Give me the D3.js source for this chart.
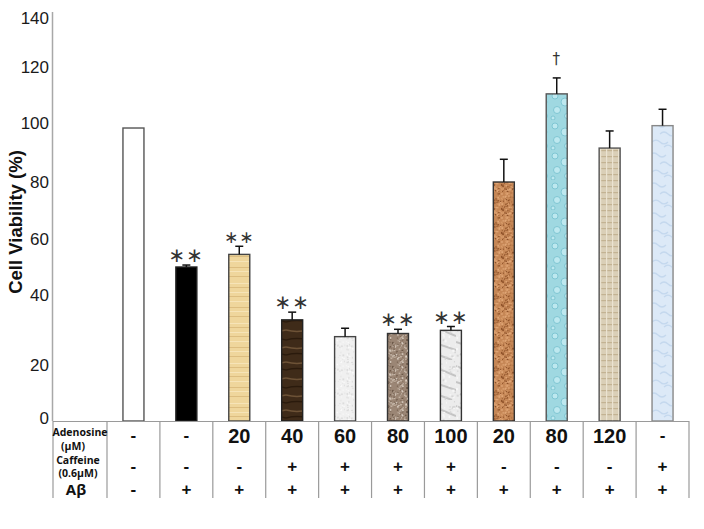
<!DOCTYPE html>
<html>
<head>
<meta charset="utf-8">
<script src="https://cdn.jsdelivr.net/npm/d3@7/dist/d3.min.js"></script>
<style>
  html, body { margin: 0; padding: 0; background: #fff; }
  svg { display: block; }
</style>
</head>
<body>
<script>
// ---- data ----
const adenosine = ["-", "-", "20", "40", "60", "80", "100", "20", "80", "120", "-"];
const caffeine  = ["-", "-", "-", "+", "+", "+", "+", "-", "-", "-", "+"];
const abeta     = ["-", "+", "+", "+", "+", "+", "+", "+", "+", "+", "+"];
const viability = [98.3, 50, 54.5, 32.9, 28.1, 29.0, 29.9, 80, 110.4, 91.5, 99.1];
const errors    = [0, 0.7, 2.9, 2.2, 2.4, 1.2, 1.1, 7.7, 5.7, 5.8, 5.8];
const marks     = ["", "**", "**", "**", "", "**", "**", "", "\u2020", "", ""];
const yTicks    = [0, 20, 40, 60, 80, 100, 120, 140];
const rowLabels = [["Adenosine", "(\u00B5M)"], ["Caffeine", "(0.6\u00B5M)"], ["A\u03B2"]];

const W = 704, H = 529;
const svg = d3.select("body").append("svg").attr("width", W).attr("height", H);

// scales (tick labels in the source are unevenly spaced, so the scale follows them)
const y = d3.scaleLinear().domain(yTicks).range([421, 365, 295, 239, 182, 123, 67, 18]);
const x = d3.scaleBand().domain(d3.range(viability.length)).range([107, 689]);
const barW = 21;

// ---- patterns ----
const defs = svg.append("defs");
function pat(id, w, h, base, draw) {
  const p = defs.append("pattern").attr("id", id).attr("patternUnits", "userSpaceOnUse")
    .attr("width", w).attr("height", h);
  p.append("rect").attr("width", w).attr("height", h).attr("fill", base);
  draw(p);
}
// deterministic speckle helper (texture only)
function speckle(p, w, h, n, colors, r, seed) {
  let s = seed;
  const rnd = () => { s = (s * 9301 + 49297) % 233280; return s / 233280; };
  for (let i = 0; i < n; i++) {
    p.append("rect").attr("x", rnd() * w).attr("y", rnd() * h)
      .attr("width", r * (0.6 + rnd())).attr("height", r * (0.6 + rnd()))
      .attr("fill", colors[i % colors.length]);
  }
}
const fills = ["#ffffff", "#000000"];
pat("p2", 22, 40, "#efd69c", p => {
  [3, 7, 12, 16, 21, 27, 31, 36].forEach((yy, i) =>
    p.append("rect").attr("x", 0).attr("y", yy).attr("width", 22).attr("height", 1)
      .attr("fill", i % 2 ? "#dcbd80" : "#f6e4b8"));
});
fills.push("url(#p2)");
pat("p3", 22, 48, "#3f2b19", p => {
  [4, 11, 19, 26, 34, 42].forEach((yy, i) =>
    p.append("path").attr("d", `M0,${yy} Q11,${yy + (i % 2 ? 3 : -3)} 22,${yy}`)
      .attr("stroke", i % 2 ? "#6d5236" : "#2a1a0c").attr("stroke-width", 1.5).attr("fill", "none"));
});
fills.push("url(#p3)");
pat("p4", 24, 24, "#f0f0f0", p => speckle(p, 24, 24, 60, ["#dcdcdc", "#e4e4e4", "#fafafa"], 1.2, 7));
fills.push("url(#p4)");
pat("p5", 24, 24, "#9b8675", p => speckle(p, 24, 24, 140, ["#6a5646", "#c2b1a1", "#85705f", "#d8ccc0"], 1.2, 13));
fills.push("url(#p5)");
pat("p6", 24, 40, "#ececec", p => {
  [[0, 6, 24, 16], [0, 22, 24, 30], [4, 34, 20, 40]].forEach(d =>
    p.append("line").attr("x1", d[0]).attr("y1", d[1]).attr("x2", d[2]).attr("y2", d[3])
      .attr("stroke", "#c4c4c4").attr("stroke-width", 2));
  speckle(p, 24, 40, 40, ["#d6d6d6", "#f7f7f7"], 1.5, 21);
});
fills.push("url(#p6)");
pat("p7", 24, 24, "#c68756", p => speckle(p, 24, 24, 150, ["#8e5128", "#e0a676", "#a86a3c", "#d79a68"], 1.3, 33));
fills.push("url(#p7)");
pat("p8", 22, 30, "#9fd8e1", p => {
  [[5, 6, 3], [15, 12, 4], [7, 20, 3.5], [17, 26, 2.5], [3, 28, 2]].forEach(c =>
    p.append("circle").attr("cx", c[0]).attr("cy", c[1]).attr("r", c[2])
      .attr("fill", "#bde8ef").attr("stroke", "#72bfcd").attr("stroke-width", 0.8));
});
fills.push("url(#p8)");
pat("p9", 6, 6, "#dacfb7", p => {
  p.append("rect").attr("x", 0).attr("y", 0).attr("width", 6).attr("height", 1.2).attr("fill", "#c3b393");
  p.append("rect").attr("x", 0).attr("y", 0).attr("width", 1.2).attr("height", 6).attr("fill", "#ebe3d1");
});
fills.push("url(#p9)");
pat("p10", 24, 30, "#dce9f7", p => {
  [[2, 5], [12, 14], [4, 22], [16, 27]].forEach(c =>
    p.append("path").attr("d", `M${c[0]},${c[1]} q4,-4 8,0 t8,0`)
      .attr("stroke", "#c4d8ee").attr("stroke-width", 1.2).attr("fill", "none"));
});
fills.push("url(#p10)");
const strokes = ["#555", "#222", "#444", "#222", "#444", "#333", "#333", "#333", "#555", "#555", "#888"];

// ---- y axis ----
svg.append("line").attr("x1", 52.5).attr("x2", 52.5).attr("y1", 12).attr("y2", 421)
  .attr("stroke", "#a8a8a8").attr("stroke-width", 1.5);
const yAxis = d3.axisLeft(y).tickValues(yTicks).tickSize(0).tickPadding(1);
const yg = svg.append("g").attr("transform", "translate(50,0)").call(yAxis);
yg.select(".domain").remove();
yg.selectAll("text").attr("font-family", "Liberation Sans, Arial, sans-serif")
  .attr("font-size", 17).attr("fill", "#1a1a1a").attr("dy", "0.32em");
yg.selectAll(".tick").filter(d => d === 0).select("text").attr("dy", "0.15em");

svg.append("text").attr("transform", "translate(22,222) rotate(-90)")
  .attr("text-anchor", "middle").attr("font-family", "Liberation Sans, Arial, sans-serif")
  .attr("font-weight", "bold").attr("font-size", 18.5).attr("fill", "#111")
  .text("Cell Viability (%)");

// ---- bars ----
const cx = i => x(i) + x.bandwidth() / 2;
svg.append("g").selectAll("rect").data(viability).join("rect")
  .attr("x", (d, i) => cx(i) - barW / 2).attr("y", d => y(d))
  .attr("width", barW).attr("height", d => y(0) - y(d))
  .attr("fill", (d, i) => fills[i]).attr("stroke", (d, i) => strokes[i]).attr("stroke-width", 1.4);

// error bars (upper only)
const eg = svg.append("g").attr("stroke", "#111").attr("stroke-width", 1.5);
viability.forEach((v, i) => {
  if (!errors[i]) return;
  eg.append("line").attr("x1", cx(i)).attr("x2", cx(i)).attr("y1", y(v)).attr("y2", y(v + errors[i]));
  eg.append("line").attr("x1", cx(i) - 4).attr("x2", cx(i) + 4)
    .attr("y1", y(v + errors[i])).attr("y2", y(v + errors[i]));
});

// significance marks
marks.forEach((m, i) => {
  if (!m) return;
  const top = y(viability[i] + errors[i]);
  const isDagger = m === "\u2020";
  svg.append("text").attr("x", cx(i)).attr("y", top - (isDagger ? 14 : 3))
    .attr("text-anchor", "middle").attr("font-family", "DejaVu Sans, sans-serif")
    .attr("font-size", isDagger ? 15 : (i === 2 ? 17 : 20)).attr("fill", "#333")
    .attr("letter-spacing", 1)
    .text(isDagger ? m : "\u2217\u2217");
});

// ---- table ----
const tg = svg.append("g").attr("stroke", "#9a9a9a").attr("stroke-width", 1.2);
tg.append("line").attr("x1", 53).attr("x2", 689).attr("y1", 421.5).attr("y2", 421.5);
tg.append("line").attr("x1", 53).attr("x2", 53).attr("y1", 421).attr("y2", 498);
d3.range(viability.length).forEach(i => {
  tg.append("line").attr("x1", x(i)).attr("x2", x(i)).attr("y1", 421).attr("y2", 498);
});
tg.append("line").attr("x1", 689).attr("x2", 689).attr("y1", 421).attr("y2", 498);

const hdr = svg.append("g").attr("font-family", "Open Sans, Liberation Sans, sans-serif")
  .attr("font-weight", "bold").attr("fill", "#111").attr("text-anchor", "middle");
hdr.append("text").attr("x", 80).attr("y", 436).attr("font-size", 10.5).text(rowLabels[0][0]);
hdr.append("text").attr("x", 73).attr("y", 450).attr("font-size", 10.5).text(rowLabels[0][1]);
hdr.append("text").attr("x", 78).attr("y", 464).attr("font-size", 10.5).text(rowLabels[1][0]);
hdr.append("text").attr("x", 78).attr("y", 477).attr("font-size", 10.5).text(rowLabels[1][1]);
hdr.append("text").attr("x", 76).attr("y", 495).attr("font-size", 15).text(rowLabels[2][0]);

const cell = svg.append("g").attr("font-family", "Liberation Sans, Arial, sans-serif")
  .attr("font-weight", "bold").attr("fill", "#111").attr("text-anchor", "middle");
adenosine.forEach((t, i) => {
  cell.append("text").attr("x", cx(i)).attr("y", t === "-" ? 441 : 443)
    .attr("font-size", t === "-" ? 17 : 20).text(t);
});
caffeine.forEach((t, i) => {
  cell.append("text").attr("x", cx(i)).attr("y", 472).attr("font-size", 17).text(t);
});
abeta.forEach((t, i) => {
  cell.append("text").attr("x", cx(i)).attr("y", 495).attr("font-size", 17).text(t);
});
</script>
</body>
</html>
